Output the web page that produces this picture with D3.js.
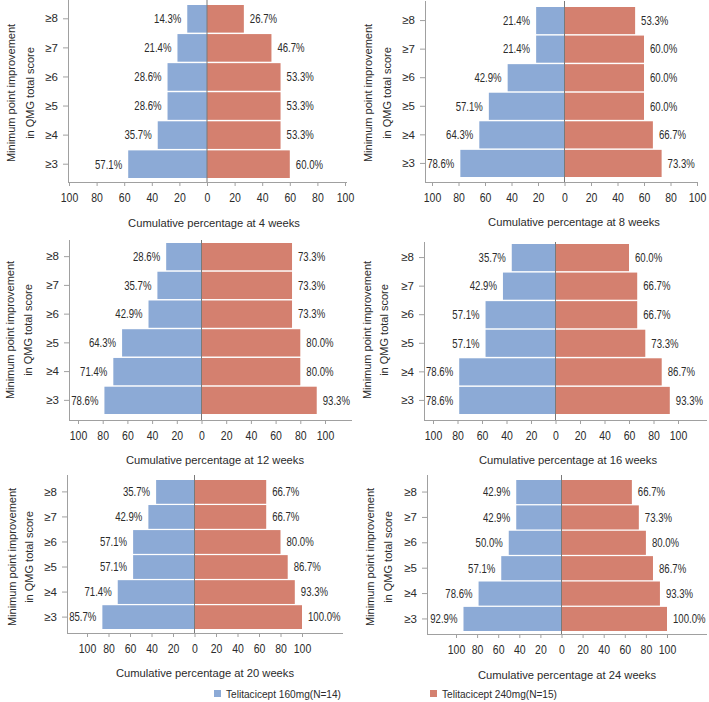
<!DOCTYPE html>
<html><head><meta charset="utf-8">
<script src="https://cdn.jsdelivr.net/npm/d3@7"></script>
<style>
html,body{margin:0;padding:0;background:#fff;}
svg{display:block;font-family:"Liberation Sans",Arial,sans-serif;}
</style></head>
<body>
<svg id="chart" width="709" height="702"></svg>
<script>
// ---- data ----
const categories = ["≥8","≥7","≥6","≥5","≥4","≥3"];
const weeks = [4, 8, 12, 16, 20, 24];
const seriesNames = ["Telitacicept 160mg(N=14)", "Telitacicept 240mg(N=15)"];
const dose160 = [
  [14.3, 21.4, 28.6, 28.6, 35.7, 57.1],
  [21.4, 21.4, 42.9, 57.1, 64.3, 78.6],
  [28.6, 35.7, 42.9, 64.3, 71.4, 78.6],
  [35.7, 42.9, 57.1, 57.1, 78.6, 78.6],
  [35.7, 42.9, 57.1, 57.1, 71.4, 85.7],
  [42.9, 42.9, 50.0, 57.1, 78.6, 92.9]
];
const dose240 = [
  [26.7, 46.7, 53.3, 53.3, 53.3, 60.0],
  [53.3, 60.0, 60.0, 60.0, 66.7, 73.3],
  [73.3, 73.3, 73.3, 80.0, 80.0, 93.3],
  [60.0, 66.7, 66.7, 73.3, 86.7, 93.3],
  [66.7, 66.7, 80.0, 86.7, 93.3, 100.0],
  [66.7, 73.3, 80.0, 86.7, 93.3, 100.0]
];
const xTicks = [-100, -80, -60, -40, -20, 0, 20, 40, 60, 80, 100];
const yTitleLines = ["Minimum point improvement", "in QMG total score"];

// ---- layout (pixel positions of each panel) ----
const layout = [
  {xl:69, xr:345, ax:68, right:347, top:0, ay:182, bt:5, bb:178, tx:214, ty:223, y1:11, y2:30, yc:93},
  {xl:432, xr:697, ax:425, right:698, top:1, ay:182, bt:7, bb:177, tx:574, ty:222, y1:368, y2:387, yc:93},
  {xl:78, xr:325, ax:69, right:352, top:240, ay:420, bt:243, bb:414, tx:215, ty:460, y1:10, y2:28, yc:330},
  {xl:433, xr:678, ax:424, right:707, top:242, ay:420, bt:244, bb:414, tx:568, ty:460, y1:367, y2:384, yc:330},
  {xl:87, xr:302, ax:67, right:343, top:475, ay:633, bt:480, bb:629, tx:205, ty:673, y1:12, y2:29, yc:557},
  {xl:456, xr:667, ax:427, right:707, top:475, ay:634, bt:480, bb:631, tx:567, ty:675, y1:370, y2:388, yc:557}
];

const BLUE = "#8caad6", RED = "#d4806f", TXT = "#2b2b2b", AXC = "#a0a0a0";
const svg = d3.select("#chart");

weeks.forEach((w, i) => {
  const L = layout[i];
  const g = svg.append("g");
  const x = d3.scaleLinear().domain([-100, 100]).range([L.xl, L.xr]);
  const y = d3.scaleBand().domain(categories).range([L.bt, L.bb]).paddingInner(0.05).paddingOuter(0);

  // bars
  const rows = categories.map((c, k) => ({c, b: dose160[i][k], r: dose240[i][k]}));
  g.selectAll("rect.b").data(rows).join("rect")
    .attr("x", d => x(-d.b)).attr("width", d => x(0) - x(-d.b))
    .attr("y", d => y(d.c)).attr("height", y.bandwidth()).attr("fill", BLUE);
  g.selectAll("rect.r").data(rows).join("rect")
    .attr("x", x(0)).attr("width", d => x(d.r) - x(0))
    .attr("y", d => y(d.c)).attr("height", y.bandwidth()).attr("fill", RED);

  // value labels (horizontally condensed like the reference)
  g.selectAll("text.bl").data(rows).join("text")
    .attr("transform", d => `translate(${x(-d.b) - 6},${y(d.c) + y.bandwidth()/2}) scale(0.8,1)`)
    .attr("dy", "0.36em").attr("text-anchor", "end")
    .attr("font-size", "12px").attr("fill", TXT)
    .text(d => d.b.toFixed(1) + "%");
  g.selectAll("text.rl").data(rows).join("text")
    .attr("transform", d => `translate(${x(d.r) + 6},${y(d.c) + y.bandwidth()/2}) scale(0.8,1)`)
    .attr("dy", "0.36em").attr("text-anchor", "start")
    .attr("font-size", "12px").attr("fill", TXT)
    .text(d => d.r.toFixed(1) + "%");

  // center line
  g.append("line").attr("x1", x(0)).attr("x2", x(0)).attr("y1", L.top).attr("y2", L.ay)
    .attr("stroke", "#7a7a7a").attr("stroke-width", 1);

  // x axis
  const xa = g.append("g").attr("transform", `translate(0,${L.ay})`)
    .call(d3.axisBottom(x).tickValues(xTicks).tickFormat(d => Math.abs(d)).tickSize(4).tickSizeOuter(0));
  xa.select(".domain").remove();
  xa.append("line").attr("x1", L.ax).attr("x2", L.right).attr("y1", 0.5).attr("y2", 0.5).attr("stroke", AXC);
  xa.selectAll(".tick line").attr("stroke", AXC);
  xa.selectAll(".tick text").attr("font-size", "12.5px").attr("fill", TXT).attr("y", 11)
    .attr("transform", "scale(0.84,1)")
    .attr("font-family", "Liberation Sans, Arial, sans-serif");

  // y axis
  const ya = g.append("g").attr("transform", `translate(${L.ax},0)`)
    .call(d3.axisLeft(y).tickSize(5).tickSizeOuter(0).tickPadding(5));
  ya.select(".domain").remove();
  ya.append("line").attr("x1", 0.5).attr("x2", 0.5).attr("y1", L.top).attr("y2", L.ay).attr("stroke", AXC);
  ya.selectAll(".tick line").attr("stroke", AXC);
  ya.selectAll(".tick text").attr("font-size", "11.5px").attr("fill", TXT)
    .attr("font-family", "Liberation Sans, Arial, sans-serif");

  // x title
  g.append("text").attr("transform", `translate(${L.tx},${L.ty}) scale(0.95,1)`).attr("dy", "0.35em")
    .attr("text-anchor", "middle").attr("font-size", "11.8px").attr("fill", TXT)
    .text(`Cumulative percentage at ${w} weeks`);

  // y title
  [L.y1, L.y2].forEach((yx, k) => {
    g.append("text").attr("transform", `translate(${yx},${L.yc}) rotate(-90) scale(0.95,1)`)
      .attr("dy", "0.35em").attr("text-anchor", "middle")
      .attr("font-size", "11.6px").attr("fill", TXT).text(yTitleLines[k]);
  });
});

// legend
const legendPos = [{sx:214, tx:226}, {sx:430, tx:442}];
const legendColors = [BLUE, RED];
seriesNames.forEach((s, k) => {
  const P = legendPos[k];
  svg.append("rect").attr("x", P.sx).attr("y", 690).attr("width", 7).attr("height", 7).attr("fill", legendColors[k]);
  svg.append("text").attr("transform", `translate(${P.tx},694) scale(0.88,1)`).attr("dy", "0.35em")
    .attr("font-size", "11.5px").attr("fill", TXT).text(s);
});
</script>
</body></html>
